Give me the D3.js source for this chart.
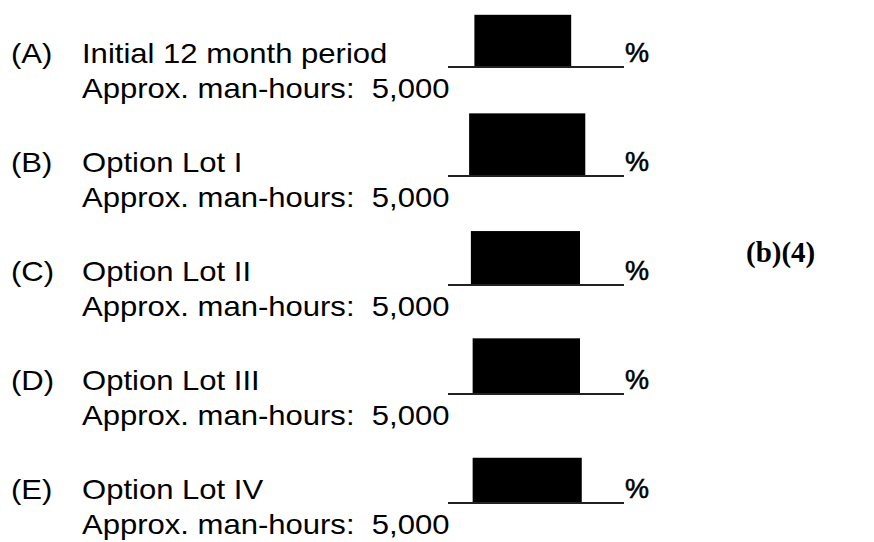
<!DOCTYPE html>
<html>
<head>
<meta charset="utf-8">
<script src="https://cdn.jsdelivr.net/npm/d3@7/dist/d3.min.js"></script>
<style>
  html, body { margin: 0; padding: 0; background: #fff; }
  svg { display: block; }
  .lbl { font-family: "Liberation Sans", Arial, sans-serif; font-size: 27px; fill: #000; }
  .pct { font-family: "Liberation Sans", Arial, sans-serif; font-size: 27px; fill: #000; stroke: #000; stroke-width: 0.6; }
  .tag { font-family: "Liberation Serif", "Times New Roman", serif; font-weight: bold; font-size: 29px; fill: #000; }
</style>
</head>
<body>
<div id="chart"></div>
<script>
// form rows
const letters = ['(A)', '(B)', '(C)', '(D)', '(E)'];
const titles = ['Initial 12 month period', 'Option Lot I', 'Option Lot II', 'Option Lot III', 'Option Lot IV'];
const manHours = [5000, 5000, 5000, 5000, 5000];
// redacted share of each blank (0-100 along the underline) and box height (same units)
const redactStart = [15, 12, 13, 14, 14];
const redactEnd = [70, 78, 75, 75, 76];
const redactHeight = [30, 36, 31, 32, 26];
const marginTag = '(b)(4)';

const W = 874, H = 542;
const svg = d3.select('#chart').append('svg')
  .attr('width', W).attr('height', H)
  .attr('viewBox', `0 0 ${W} ${H}`);

const rowY = d3.scalePoint().domain(letters).range([63, 499]);
const fmt = d3.format(',');
const SX = 1.15;

// blank: 0..100 mapped to underline pixels
const blank = d3.scaleLinear().domain([0, 100]).range([448, 624]);
const boxH = d3.scaleLinear().domain([0, 100]).range([0, 174]);

const rows = svg.selectAll('g.row')
  .data(letters.map((l, i) => ({ l, i })))
  .join('g')
  .attr('class', 'row')
  .attr('transform', d => `translate(0,${rowY(d.l)})`);

rows.append('text').attr('class', 'lbl')
  .attr('transform', `translate(11,0) scale(${SX},1)`)
  .text(d => d.l);

rows.append('text').attr('class', 'lbl')
  .attr('transform', `translate(82,0) scale(${SX},1)`)
  .text(d => titles[d.i]);

rows.append('text').attr('class', 'lbl')
  .attr('transform', `translate(82,35) scale(${SX},1)`)
  .text(d => 'Approx. man-hours:\u00a0\u00a0' + fmt(manHours[d.i]));

rows.append('rect')
  .attr('x', d => blank(redactStart[d.i]))
  .attr('width', d => blank(redactEnd[d.i]) - blank(redactStart[d.i]))
  .attr('y', d => 4 - boxH(redactHeight[d.i]))
  .attr('height', d => boxH(redactHeight[d.i]))
  .attr('fill', '#000');

rows.append('line')
  .attr('x1', blank(0)).attr('x2', blank(100))
  .attr('y1', 4).attr('y2', 4)
  .attr('stroke', '#222').attr('stroke-width', 2);

rows.append('text').attr('class', 'pct')
  .attr('transform', `translate(${blank(100) + 1},-1) scale(1,1)`)
  .text('%');

svg.append('text').attr('class', 'tag')
  .attr('x', 746).attr('y', 262)
  .text(marginTag);
</script>
</body>
</html>
